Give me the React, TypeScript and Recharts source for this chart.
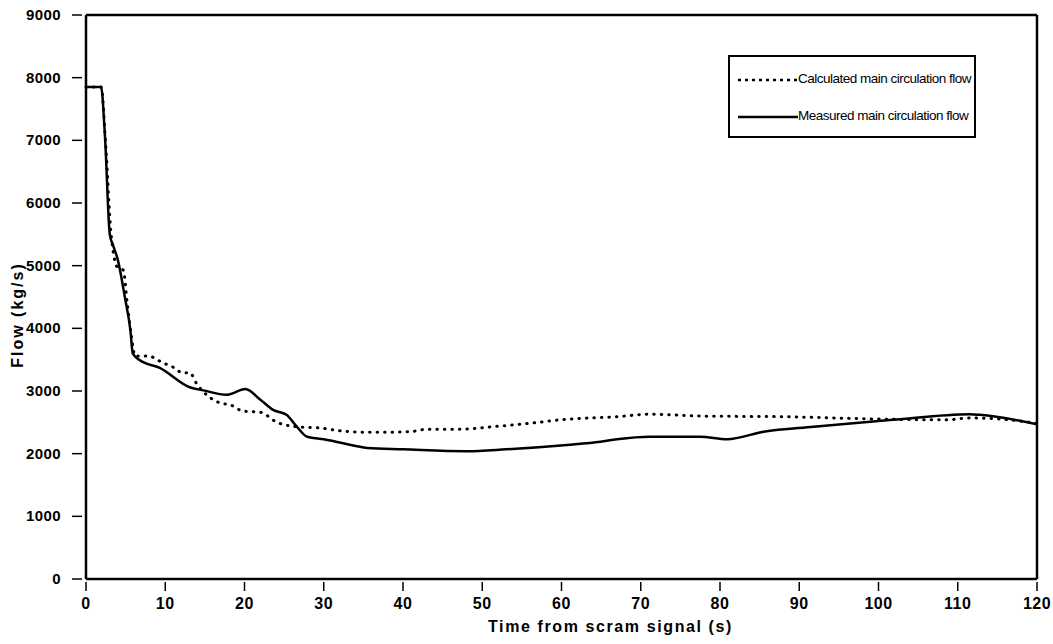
import React from 'react';
import { LineChart, Line, XAxis, YAxis, ReferenceLine } from 'recharts';

const measuredTime = [0, 1.9, 2.4, 3.0, 3.4, 4.0, 4.9, 5.6, 5.9, 6.8, 9.3, 13.1, 14.8, 17.8, 20.1, 22, 23.6, 25.3, 26.6, 27.9, 30, 34.6, 35.5, 40, 48, 53, 60.7, 64.9, 67, 71.2, 77.5, 80.9, 85.5, 91.8, 101.8, 111.5, 112.8, 120];
const measuredFlow = [7850, 7850, 7050, 5500, 5330, 5100, 4500, 3970, 3600, 3490, 3370, 3060, 3010, 2940, 3030, 2860, 2700, 2620, 2430, 2270, 2230, 2110, 2090, 2070, 2040, 2070, 2140, 2190, 2230, 2270, 2270, 2230, 2350, 2430, 2540, 2630, 2620, 2470];

const calcTime = [0, 1.9, 2.5, 3.1, 3.7, 4.0, 4.7, 5.2, 5.7, 6.2, 7.8, 9.7, 11, 12.2, 13.1, 14, 15.6, 16.9, 18.2, 19.8, 22, 24.1, 26.6, 29.5, 32.4, 36, 40.9, 43, 46.8, 52.2, 56.4, 59.8, 67, 71.2, 77.5, 87.6, 101, 108.6, 111.5, 119.1, 120];
const calcFlow = [7850, 7850, 6900, 5600, 5050, 4970, 4930, 4400, 3900, 3560, 3560, 3450, 3380, 3290, 3290, 3110, 2900, 2810, 2780, 2680, 2660, 2500, 2430, 2410, 2360, 2340, 2350, 2390, 2390, 2440, 2490, 2540, 2590, 2630, 2600, 2590, 2550, 2540, 2570, 2500, 2480];

const xTicks = [0, 10, 20, 30, 40, 50, 60, 70, 80, 90, 100, 110, 120];
const yTicks = [0, 1000, 2000, 3000, 4000, 5000, 6000, 7000, 8000, 9000];

const seriesNames = ['Calculated main circulation flow', 'Measured main circulation flow'];

const measuredData = measuredTime.map((t, i) => ({ t, flow: measuredFlow[i] }));
const calcData = calcTime.map((t, i) => ({ t, flow: calcFlow[i] }));

const FONT = '"Liberation Sans", Arial, sans-serif';

const XTick = (props: any) => {
  const { x, y, payload } = props;
  return (
    <g>
      <line x1={x} x2={x} y1={y - 5} y2={y + 4} stroke="#000" strokeWidth={1.5} />
      <text x={x} y={y + 22} textAnchor="middle" fontFamily={FONT} fontWeight="bold" fontSize={16} letterSpacing={0.5} fill="#000">
        {payload.value}
      </text>
    </g>
  );
};

const YTick = (props: any) => {
  const { x, y, payload } = props;
  return (
    <g>
      <line x1={x - 6} x2={x + 4} y1={y} y2={y} stroke="#000" strokeWidth={1.5} />
      <text x={x - 17} y={y + 5} textAnchor="end" fontFamily={FONT} fontWeight="bold" fontSize={15} letterSpacing={0.4} fill="#000">
        {payload.value}
      </text>
    </g>
  );
};

const LegendBox = () => (
  <div
    style={{
      position: 'absolute',
      left: 728,
      top: 55,
      width: 248,
      height: 83,
      border: '2px solid #000',
      background: '#fff',
      fontFamily: FONT,
      fontSize: 13.5,
      letterSpacing: -0.5,
      color: '#000',
      boxSizing: 'border-box',
    }}
  >
    <svg width={70} height={82} style={{ position: 'absolute', left: 0, top: 0 }}>
      <line x1={8} x2={68} y1={23} y2={23} stroke="#000" strokeWidth={2.5} strokeDasharray="3 4" />
      <line x1={8} x2={68} y1={60} y2={60} stroke="#000" strokeWidth={2.5} />
    </svg>
    <div style={{ position: 'absolute', left: 68, top: 14, whiteSpace: 'nowrap' }}>{seriesNames[0]}</div>
    <div style={{ position: 'absolute', left: 68, top: 51, whiteSpace: 'nowrap' }}>{seriesNames[1]}</div>
  </div>
);

export default function App() {
  return (
    <div style={{ position: 'absolute', left: 0, top: 0, width: 1053, height: 644, background: '#fff' }}>
      <LineChart width={1053} height={644} margin={{ top: 15, right: 16, bottom: 0, left: 0 }}>
        <XAxis
          xAxisId="b"
          type="number"
          dataKey="t"
          domain={[0, 120]}
          ticks={xTicks}
          interval={0}
          height={65}
          tickLine={false}
          tick={<XTick />}
          axisLine={{ stroke: '#000', strokeWidth: 2.5 }}
          allowDuplicatedCategory={false}
          label={{ value: 'Time from scram signal (s)', position: 'insideBottom', offset: 12, dx: 49, style: { fontFamily: FONT, fontWeight: 'bold', fontSize: 16, letterSpacing: 1.6, fill: '#000' } }}
        />
        <YAxis
          yAxisId="l"
          type="number"
          domain={[0, 9000]}
          ticks={yTicks}
          interval={0}
          width={86}
          tickLine={false}
          tick={<YTick />}
          axisLine={{ stroke: '#000', strokeWidth: 2.5 }}
          label={{ value: 'Flow (kg/s)', angle: -90, position: 'insideLeft', offset: 17, dy: 18, style: { textAnchor: 'middle', fontFamily: FONT, fontWeight: 'bold', fontSize: 16, letterSpacing: 2, fill: '#000' } }}
        />
        <ReferenceLine xAxisId="b" yAxisId="l" y={9000} stroke="#000" strokeWidth={2.5} />
        <ReferenceLine xAxisId="b" yAxisId="l" x={120} stroke="#000" strokeWidth={2.5} />
        <Line
          xAxisId="b"
          yAxisId="l"
          data={calcData}
          dataKey="flow"
          name={seriesNames[0]}
          type="monotone"
          stroke="#000"
          strokeWidth={3}
          strokeDasharray="0.5 7"
          strokeLinecap="round"
          dot={false}
          isAnimationActive={false}
        />
        <Line
          xAxisId="b"
          yAxisId="l"
          data={measuredData}
          dataKey="flow"
          name={seriesNames[1]}
          type="monotone"
          stroke="#000"
          strokeWidth={2.5}
          dot={false}
          isAnimationActive={false}
        />
      </LineChart>
      <LegendBox />
    </div>
  );
}
